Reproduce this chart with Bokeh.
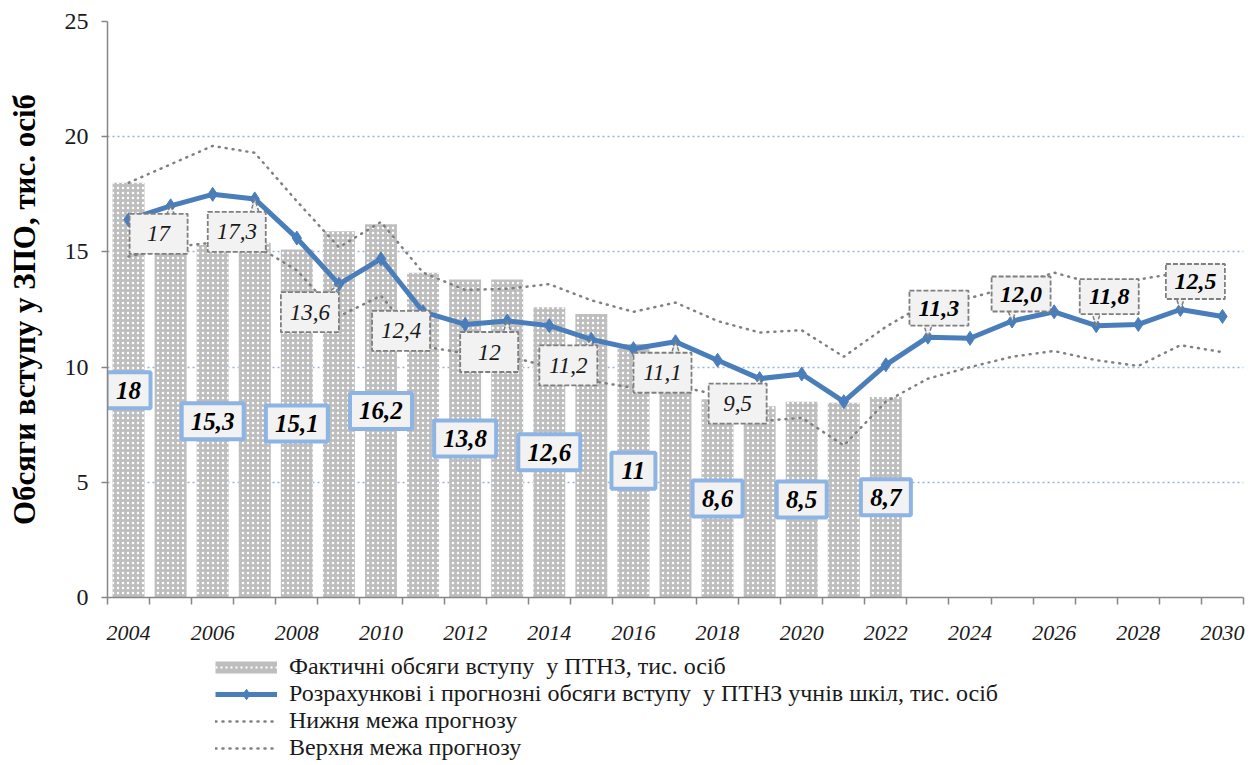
import numpy as np
from bokeh.plotting import figure
from bokeh.layouts import column
from bokeh.models import FixedTicker, Legend, LegendItem, Range1d
from bokeh.core.properties import value
from bokeh.embed import file_html
from bokeh.resources import INLINE

# ---------------- data ----------------
years_actual = list(range(2004, 2023))
actual = [18.0, 15.8, 15.3, 15.4, 15.1, 15.9, 16.2, 14.1, 13.8, 13.8,
          12.6, 12.3, 11.0, 9.8, 8.6, 8.3, 8.5, 8.45, 8.7]

years = list(range(2004, 2031))
forecast = [16.4, 17.0, 17.5, 17.3, 15.6, 13.6, 14.7, 12.4, 11.85, 12.0,
            11.8, 11.2, 10.8, 11.1, 10.3, 9.5, 9.7, 8.5, 10.1, 11.3,
            11.25, 12.0, 12.4, 11.8, 11.85, 12.5, 12.2]
lower = [14.8, 15.2, 15.4, 15.3, 14.2, 12.2, 13.1, 10.9, 10.6, 10.5,
         10.0, 9.4, 9.1, 9.2, 8.8, 7.65, 7.8, 6.6, 8.5, 9.5,
         10.0, 10.45, 10.7, 10.3, 10.05, 10.95, 10.65]
upper = [18.0, 18.8, 19.6, 19.3, 17.2, 15.2, 16.3, 14.1, 13.35, 13.4,
         13.6, 12.9, 12.4, 12.8, 12.0, 11.5, 11.6, 10.45, 11.75, 12.8,
         13.0, 13.5, 14.1, 13.6, 13.8, 14.1, 13.8]

bar_label_years = [2004, 2006, 2008, 2010, 2012, 2014, 2016, 2018, 2020, 2022]
bar_label_texts = ["18", "15,3", "15,1", "16,2", "13,8", "12,6", "11", "8,6", "8,5", "8,7"]

fc_label_years = [2005, 2007, 2009, 2011, 2013, 2015, 2017, 2019, 2023, 2025, 2027, 2029]
fc_label_texts = ["17", "17,3", "13,6", "12,4", "12", "11,2", "11,1", "9,5",
                  "11,3", "12,0", "11,8", "12,5"]

x_tick_labels = list(range(2004, 2031, 2))
y_ticks = [0, 5, 10, 15, 20, 25]

y_title = "Обсяги вступу у ЗПО, тис. осіб"
leg_labels = ["Фактичні обсяги вступу  у ПТНЗ, тис. осіб",
              "Розрахункові і прогнозні обсяги вступу  у ПТНЗ учнів шкіл, тис. осіб",
              "Нижня межа прогнозу",
              "Верхня межа прогнозу"]

# ---------------- layout constants ----------------
FW, FH = 1136, 576
X0, X1 = 2003.5, 2030.5
Y0, Y1 = 0, 25
ppx = FW / (X1 - X0)
ppy = FH / (Y1 - Y0)
FONT_NAME = "Liberation Serif"
FONT = value(FONT_NAME)

BAR_COLOR = "#BEBEBE"
LINE_BLUE = "#4A7EBB"
BOUND_GRAY = "#808080"

# label box offsets (screen px, y down) of forecast labels relative to their point
fc_offsets = [(-12, 28), (-18, 33), (-29, 28), (-22, 19), (-18, 31), (-23, 26),
              (-13, 31), (-22, 25), (11, -29), (9, -27), (13, -29), (15, -28)]

p = figure(frame_width=FW, frame_height=FH, output_backend="svg", toolbar_location=None,
           x_range=Range1d(X0, X1), y_range=Range1d(Y0, Y1),
           min_border_left=107, min_border_top=21, min_border_right=8, min_border_bottom=54)
p.outline_line_color = None
p.background_fill_color = "white"
p.border_fill_color = "white"

# grid
p.xgrid.grid_line_color = None
p.ygrid.ticker = FixedTicker(ticks=y_ticks)
p.ygrid.grid_line_color = "#95B3D7"
p.ygrid.grid_line_dash = "2 3"
p.ygrid.grid_line_width = 1.5

# axes
xa = p.xaxis[0]
xa.ticker = FixedTicker(ticks=x_tick_labels, minor_ticks=[X0 + i for i in range(28)])
xa.major_tick_in = 0
xa.major_tick_out = 0
xa.minor_tick_in = 0
xa.minor_tick_out = 7
xa.minor_tick_line_color = "#868686"
xa.minor_tick_line_width = 1.5
xa.axis_line_color = "#868686"
xa.axis_line_width = 1.5
xa.major_label_text_font = FONT_NAME
xa.major_label_text_font_style = "italic"
xa.major_label_text_font_size = "22px"
xa.major_label_text_color = "#1a1a1a"
xa.major_label_standoff = 21

ya = p.yaxis[0]
ya.ticker = FixedTicker(ticks=y_ticks)
ya.major_tick_in = 0
ya.major_tick_out = 6
ya.minor_tick_line_color = None
ya.major_tick_line_color = "#868686"
ya.major_tick_line_width = 1.5
ya.axis_line_color = "#868686"
ya.axis_line_width = 1.5
ya.major_label_text_font = FONT_NAME
ya.major_label_text_font_size = "24px"
ya.major_label_text_color = "#1a1a1a"
ya.major_label_standoff = 13
ya.axis_label = y_title
ya.axis_label_text_font = FONT_NAME
ya.axis_label_text_font_style = "bold"
ya.axis_label_text_font_size = "31px"
ya.axis_label_text_color = "#000000"
ya.axis_label_standoff = 20

# bars
p.vbar(x=years_actual, top=actual, width=0.76, bottom=0,
       fill_color=BAR_COLOR, line_color=None,
       hatch_pattern="dot", hatch_color="white", hatch_scale=5, hatch_weight=1.3)

# bounds
p.line(years, lower, line_color=BOUND_GRAY, line_width=2.5, line_dash="1 6", line_cap="round")
p.line(years, upper, line_color=BOUND_GRAY, line_width=2.5, line_dash="1 6", line_cap="round")

# forecast line
p.line(years, forecast, line_color=LINE_BLUE, line_width=5, line_join="round")
p.scatter(years, forecast, marker="diamond", size=14, fill_color=LINE_BLUE, line_color=LINE_BLUE)

# forecast labels: callouts + dashed boxes
tri_xs, tri_ys = [], []
bx, by, bws, bhs = [], [], [], []
for yr, (dx, dy) in zip(fc_label_years, fc_offsets):
    v = forecast[years.index(yr)]
    bw, bh = (58, 40) if yr < 2022 else (59, 35)
    bx.append(yr + dx / ppx)
    by.append(v - dy / ppy)
    bws.append(bw)
    bhs.append(bh)
    base_sy = (dy - bh / 2 + 3) if dy > 0 else (dy + bh / 2 - 3)
    cx = min(max(0.0, dx - bw / 2 + 9), dx + bw / 2 - 9)
    tri_xs.append([yr, yr + (cx - 5) / ppx, yr + (cx + 5) / ppx])
    tri_ys.append([v, v - base_sy / ppy, v - base_sy / ppy])

p.patches(tri_xs, tri_ys, fill_color="#F2F2F2", line_color="#7F7F7F", line_width=1.5, line_dash="4 2")
p.rect(x=bx, y=by, width=bws, height=bhs, width_units="screen", height_units="screen",
       fill_color="#F2F2F2", line_color="#7F7F7F", line_width=1.8, line_dash="5 2")

early = [i for i, yr in enumerate(fc_label_years) if yr < 2022]
late = [i for i, yr in enumerate(fc_label_years) if yr > 2022]
p.text(x=[bx[i] for i in early], y=[by[i] for i in early], text=[fc_label_texts[i] for i in early],
       text_font=FONT, text_font_style="italic", text_font_size="23px",
       text_align="center", text_baseline="middle", text_color="#1a1a1a")
p.text(x=[bx[i] for i in late], y=[by[i] for i in late], text=[fc_label_texts[i] for i in late],
       text_font=FONT, text_font_style="bold italic", text_font_size="24px",
       text_align="center", text_baseline="middle", text_color="#000000")

# bar labels (blue boxes at half height)
bl_y = [actual[years_actual.index(yr)] / 2 for yr in bar_label_years]
bl_w = [44 if len(t) == 2 else (50 if len(t) == 3 else 62) for t in bar_label_texts]
p.rect(x=bar_label_years, y=bl_y, width=bl_w, height=36, width_units="screen", height_units="screen",
       fill_color="#F2F2F2", line_color="#8DB4E2", line_width=4)
p.text(x=bar_label_years, y=bl_y, text=bar_label_texts,
       text_font=FONT, text_font_style="bold italic", text_font_size="25px",
       text_align="center", text_baseline="middle", text_color="#000000")

# ---------------- legend (separate strip below the chart) ----------------
LH = 110
q = figure(width=107 + FW + 8, height=LH, output_backend="svg", toolbar_location=None,
           x_axis_type=None, y_axis_type=None, x_range=Range1d(0, 1), y_range=Range1d(0, 1),
           min_border=0)
q.outline_line_color = None
q.grid.visible = False
q.background_fill_color = "white"
q.border_fill_color = "white"

# off-screen sample glyphs used only as legend swatches
ox, oy = [-5, -4], [-5, -5]
sw1 = q.line(x=ox, y=oy, line_color=BAR_COLOR, line_width=12)
sw2 = q.line(x=ox, y=oy, line_color="white", line_width=2, line_dash="2 3")
r_fl = q.line(x=ox, y=oy, line_color=LINE_BLUE, line_width=5)
r_fm = q.scatter(x=ox[:1], y=oy[:1], marker="diamond", size=14, fill_color=LINE_BLUE, line_color=LINE_BLUE)
r_lo = q.line(x=ox, y=oy, line_color=BOUND_GRAY, line_width=2.5, line_dash="1 6", line_cap="round")
r_hi = q.line(x=ox, y=oy, line_color=BOUND_GRAY, line_width=2.5, line_dash="1 6", line_cap="round")

legend = Legend(items=[
    LegendItem(label=leg_labels[0], renderers=[sw1, sw2]),
    LegendItem(label=leg_labels[1], renderers=[r_fl, r_fm]),
    LegendItem(label=leg_labels[2], renderers=[r_lo]),
    LegendItem(label=leg_labels[3], renderers=[r_hi]),
])
legend.location = (108, 0)
legend.orientation = "vertical"
legend.label_text_font = FONT_NAME
legend.label_text_font_size = "24px"
legend.label_text_color = "#1a1a1a"
legend.glyph_width = 62
legend.glyph_height = 26
legend.label_height = 26
legend.label_standoff = 12
legend.spacing = 0
legend.padding = 0
legend.margin = 0
legend.border_line_color = None
legend.background_fill_alpha = 0
q.add_layout(legend)

layout = column(p, q, spacing=0)
open("out.html", "w").write(file_html(layout, INLINE))
